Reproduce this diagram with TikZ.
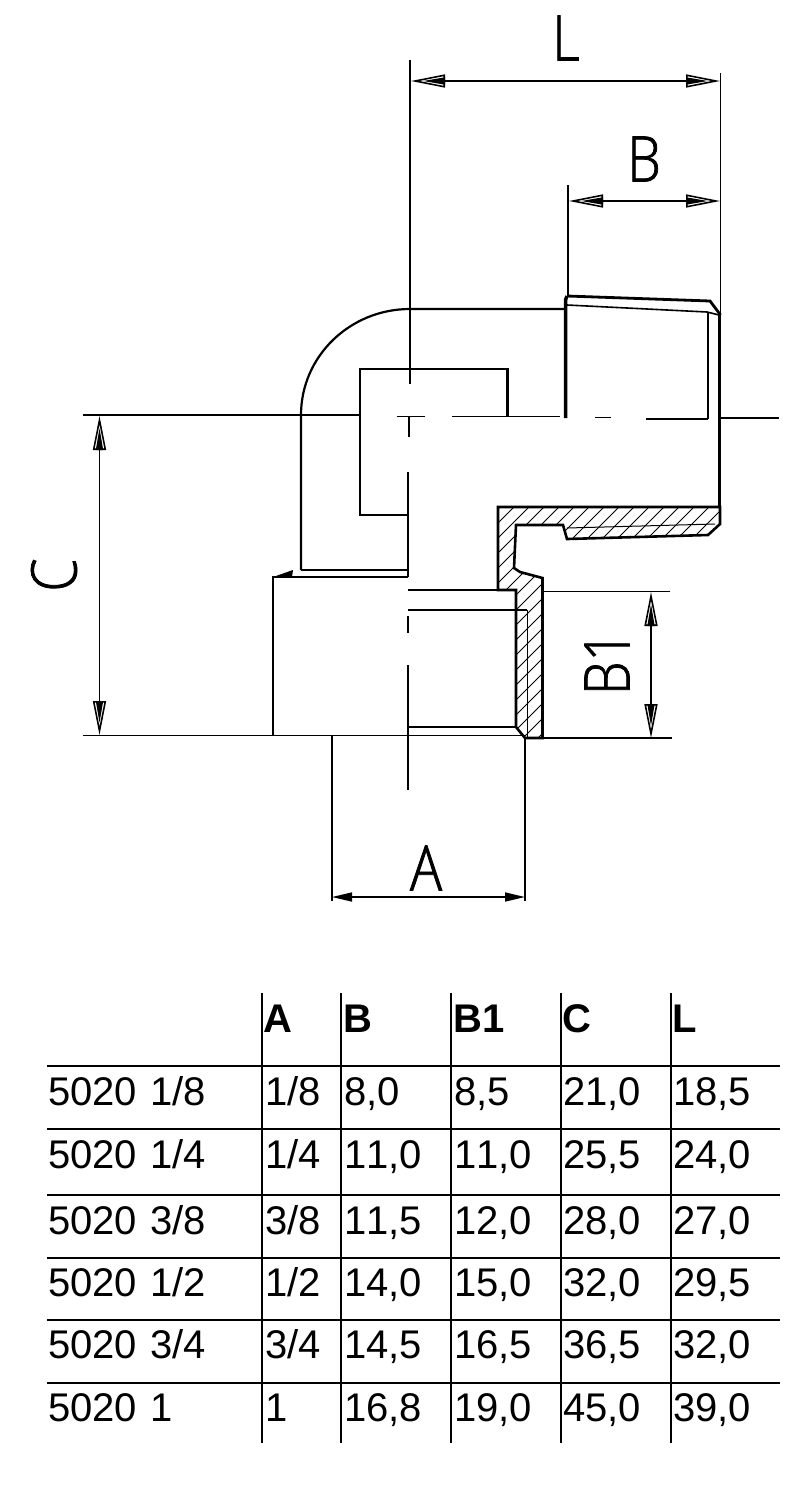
\documentclass[tikz,border=0pt]{standalone}
\usepackage{fontspec}
\setmainfont[Kerning=Off]{Liberation Sans}
\newfontfamily\cadfont[FakeBold=1.2,FakeStretch=0.85]{Open Sans Light}
\usetikzlibrary{arrows.meta}

\newcommand{\cadtext}{\fontsize{63}{63}\cadfont}

\begin{document}
\begin{tikzpicture}[x=1pt,y=-1pt]%%elbow fitting

        \tikzstyle{thin line}   = [line width=1.6pt]
        \tikzstyle{main line}   = [line width=2.2pt]
        \tikzstyle{thick line}  = [line width=3.5pt]
        \tikzstyle{hatch line}  = [line width=1pt]
        \tikzstyle{dim line}    = [line width=1.5pt, {Triangle[open,length=34pt,width=13pt,line width=1.6pt] Triangle[length=22pt,width=7pt,sep=-22pt]}-{Triangle[length=22pt,width=7pt,sep=-22pt] Triangle[open,length=34pt,width=13pt,line width=1.6pt]}]
        \tikzstyle{cell}        = [anchor=base west, inner sep=0pt, font=\fontsize{40}{40}\selectfont]
        \tikzstyle{head}        = [cell, font=\fontsize{40}{40}\selectfont\bfseries]

        \useasboundingbox (0,0) rectangle (794,1500);

        %% hatched section
        \path[save path=\sectionpath] (498,590) -- (498,507) -- (720,507) -- (720,524) -- (708,535) -- (567,539)
                -- (563,525) -- (516,525) -- (514,568) -- (520,572) -- (542.5,578) -- (542.5,738)
                -- (525,738) -- (516,727) -- (516,590) -- cycle;
        \begin{scope}
                \clip[use path=\sectionpath];
                \foreach \i in {0,...,20}
                {
                        \draw[hatch line] ({206 + \i*15},800) -- ({606 + \i*15},400);
                }
        \end{scope}
        \draw[main line, line width=2.6pt, use path=\sectionpath];
        \draw[hatch line] (567,528) -- (715,524);
        \draw[hatch line] (527,610) -- (527,737);

        %% outline of the fitting
        \draw[main line] (301,570) -- (301,415) arc[start angle=180, end angle=270, x radius=109, y radius=106] -- (565,309);
        \draw[thick line] (565.5,418) -- (565.5,300) -- (567,296);
        \draw[main line, line width=2.8pt] (567,296) -- (710,301) -- (720.5,315);
        \draw[thin line] (567,305) -- (707,312) -- (719,315);
        \draw[main line] (708,312) -- (708,419);
        \draw[main line] (719.5,315) -- (719.5,507);
        \draw[main line] (360,415) -- (360,369) -- (507.5,369) -- (507.5,417);
        \draw[main line] (360,415) -- (360,515) -- (408,515);
        \draw[main line] (408,472) -- (408,577);
        \draw[main line] (301,570) -- (408,570);
        \draw[main line] (408,577) -- (273,577) -- (273,735);
        \fill (273,577) -- (293,570) -- (292,577) -- cycle;
        \draw[main line] (408,590) -- (498,590);
        \draw[thin line] (408,610) -- (527,610);
        \draw[main line] (408,727) -- (516,727);

        %% centre lines
        \draw[thin line] (397,416.5) -- (425,416.5);
        \draw[thin line] (452,416.5) -- (560,416.5);
        \draw[thin line] (595,417.5) -- (611,417.5);
        \draw[thin line] (646,419) -- (708,419);
        \draw[thin line] (720,418) -- (779,418);
        \draw[thin line] (409,417) -- (409,437);
        \draw[thin line] (408,616) -- (408,633);
        \draw[thin line] (408,665) -- (408,790);

        %% extension lines
        \draw[thin line] (410,60) -- (410,384);
        \draw[thin line] (720.5,73) -- (720.5,315);
        \draw[thin line] (568,185) -- (568,297);
        \draw[main line, line width=1.8pt] (83,415) -- (360,415);
        \draw[main line, line width=1.8pt] (83,735.5) -- (525,735.5);
        \draw[thin line] (543,591.5) -- (670,591.5);
        \draw[main line, line width=1.8pt] (525,738) -- (672,738);
        \draw[thin line] (332,736) -- (332,901);
        \draw[thin line] (525,738) -- (525,901);

        %% dimensions
        \coordinate (l1) at (411,81);
        \coordinate (l2) at (720,81);
        \coordinate (b1) at (569,201);
        \coordinate (b2) at (720,201);
        \coordinate (c1) at (99.5,416);
        \coordinate (c2) at (99.5,735);
        \coordinate (d1) at (651,592);
        \coordinate (d2) at (651,738);
        \coordinate (a1) at (332,897);
        \coordinate (a2) at (525,897);
        \draw[dim line] (l1) -- (l2);
        \draw[dim line] (b1) -- (b2);
        \draw[dim line] (c1) -- (c2);
        \draw[dim line] (d1) -- (d2);
        \draw[line width=1.6pt, {Triangle[length=20pt,width=9pt]}-{Triangle[length=20pt,width=9pt]}] (a1) -- (a2);

        \node[inner sep=0pt, font=\cadtext] (labelL) at (566,38) {L};
        \node[inner sep=0pt, font=\cadtext] (labelB) at (644,159) {B};
        \node[inner sep=0pt, font=\cadtext] (labelA) at (426,868) {A};
        \node[inner sep=0pt, font=\cadtext, rotate=90] (labelC) at (54,575) {C};
        \node[inner sep=0pt, font=\cadtext, rotate=90] (labelBone) at (607,663) {B1};

        %% table
        \foreach \x in {262,341,451,561,671}
        {
                \draw[thin line] (\x,993) -- (\x,1443);
        }
        \foreach \y in {1066,1129,1195,1258,1320,1383}
        {
                \draw[thin line] (47,\y) -- (780,\y);
        }
        \node[head] (hA) at (263,1032) {A};
        \node[head] (hB) at (343,1032) {B};
        \node[head] (hBone) at (453,1032) {B1};
        \node[head] (hC) at (562,1032) {C};
        \node[head] (hL) at (672,1032) {L};
        \foreach \row/\y/\name/\a/\b/\bone/\c/\l in {
                r1/1105/{5020\hspace{13pt}1/8}/{1/8}/{8,0}/{8,5}/{21,0}/{18,5},
                r2/1168/{5020\hspace{13pt}1/4}/{1/4}/{11,0}/{11,0}/{25,5}/{24,0},
                r3/1234/{5020\hspace{13pt}3/8}/{3/8}/{11,5}/{12,0}/{28,0}/{27,0},
                r4/1296/{5020\hspace{13pt}1/2}/{1/2}/{14,0}/{15,0}/{32,0}/{29,5},
                r5/1358/{5020\hspace{13pt}3/4}/{3/4}/{14,5}/{16,5}/{36,5}/{32,0},
                r6/1421/{5020\hspace{13pt}1}/1/{16,8}/{19,0}/{45,0}/{39,0}}
        {
                \node[cell] (\row n) at (48,\y) {\name};
                \node[cell] (\row a) at (265,\y) {\a};
                \node[cell] (\row b) at (344,\y) {\b};
                \node[cell] (\row d) at (454,\y) {\bone};
                \node[cell] (\row c) at (563,\y) {\c};
                \node[cell] (\row l) at (673,\y) {\l};
        }
\end{tikzpicture}
\end{document}
